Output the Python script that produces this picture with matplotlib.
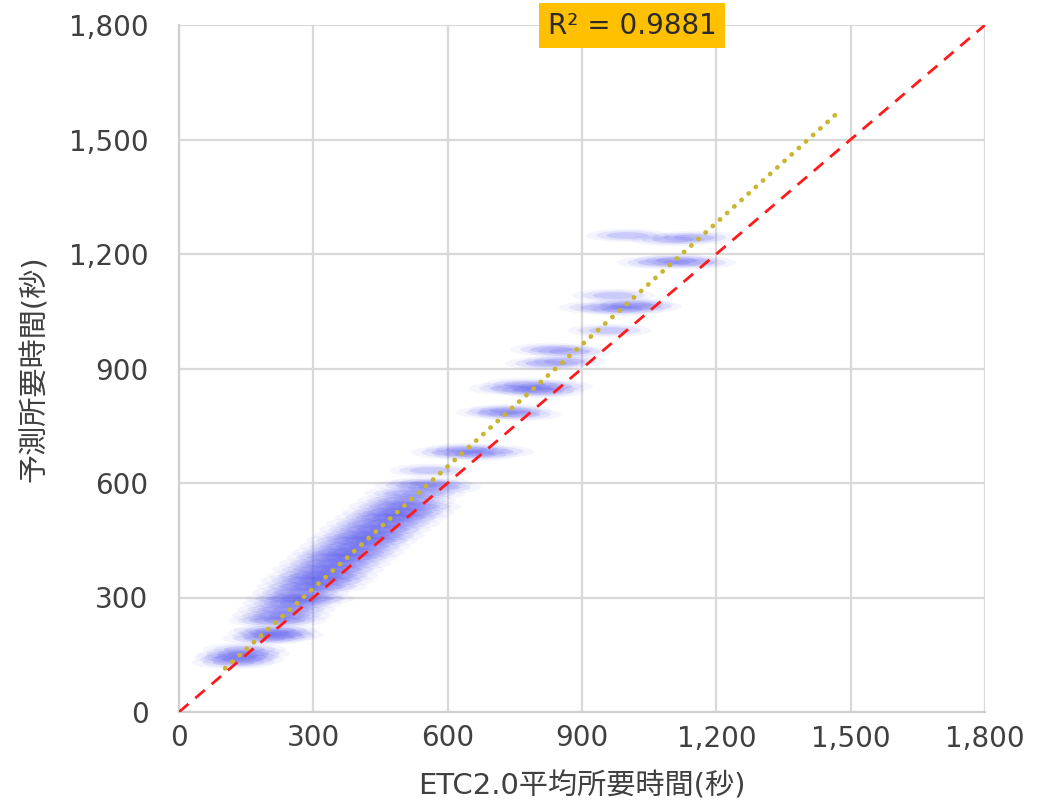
import numpy as np
import matplotlib
matplotlib.use('Agg')
import matplotlib.pyplot as plt
from matplotlib.path import Path
from matplotlib.ticker import FuncFormatter

plt.rcParams['font.family'] = ['DejaVu Sans', 'Noto Sans CJK JP']

# ---- data ----
etc_x = [120, 140, 130, 155, 145, 125,
         190, 210, 200, 230, 215,
         200, 235, 210, 245, 220, 255, 235, 270,
         240, 270, 300, 255, 285, 265, 295, 325,
         275, 310, 340, 290, 320, 350, 300, 335, 365,
         315, 348, 380, 330, 362, 395, 345, 378, 410,
         360, 395, 425, 375, 410, 440, 390, 425, 455,
         405, 440, 470, 420, 455, 490, 440, 475, 505,
         455, 490, 520, 470, 505, 535, 490, 525, 505, 545,
         530, 580, 560, 560,
         610, 660, 700, 640,
         710, 760, 740,
         740, 790, 830, 770, 810,
         820, 860, 830, 870, 960,
         940, 990, 1030, 1010, 970,
         1070, 1110, 1150,
         1000, 1100, 1150]
pred_y = [130, 140, 150, 155, 165, 145,
          195, 200, 210, 205, 215,
          240, 240, 255, 255, 270, 270, 285, 285,
          300, 300, 300, 315, 315, 330, 330, 330,
          345, 345, 345, 360, 360, 360, 375, 375, 375,
          390, 390, 390, 405, 405, 405, 420, 420, 420,
          435, 435, 435, 450, 450, 450, 465, 465, 465,
          480, 480, 480, 495, 495, 495, 510, 510, 510,
          525, 525, 525, 540, 540, 540, 555, 555, 575, 575,
          595, 590, 600, 635,
          680, 675, 685, 690,
          785, 780, 790,
          850, 845, 855, 860, 840,
          915, 920, 950, 945, 1000,
          1060, 1055, 1065, 1070, 1092,
          1180, 1185, 1180,
          1250, 1240, 1245]

# linear trend line (Excel) and identity line
trend_slope = 1.064
trend_intercept = 5.0
trend_x = [103, 1465]
identity_x = [0, 1800]
r2_text = 'R² = 0.9881'

ticks = [0, 300, 600, 900, 1200, 1500, 1800]
xlabel = 'ETC2.0平均所要時間(秒)'
ylabel = '予測所要時間(秒)'

# ---- figure ----
fig = plt.figure(figsize=(10.45, 8.07), dpi=100)
ax = fig.add_axes([179/1045, 95/807, 806/1045, 687/807])

theta = np.linspace(0, 2*np.pi, 64)
ellipse = Path(np.column_stack([np.cos(theta), 0.16*np.sin(theta)]))

for w, a in [(60, 0.06), (45, 0.11), (30, 0.17)]:
    ax.scatter(etc_x, pred_y, s=w**2, marker=ellipse, color='#5555f0',
               alpha=a, linewidths=0, zorder=2)

ax.plot(identity_x, identity_x, color='#ff1a1a', lw=2.0,
        dashes=(4.5, 3.2), zorder=4)
tx = np.array(trend_x, dtype=float)
ax.plot(tx, trend_slope*tx + trend_intercept, color='#c9b52e', lw=3.4,
        linestyle=(0, (0.05, 2.0)), dash_capstyle='round', zorder=5)

ax.set_xlim(0, 1800)
ax.set_ylim(0, 1800)
ax.set_xticks(ticks)
ax.set_yticks(ticks)
fmt = FuncFormatter(lambda v, p: f'{int(v):,}')
ax.xaxis.set_major_formatter(fmt)
ax.yaxis.set_major_formatter(fmt)
ax.grid(True, color='#d9d9d9', lw=1.6, zorder=0)
ax.set_axisbelow(True)
for s in ['top', 'right']:
    ax.spines[s].set_visible(False)
for s in ['left', 'bottom']:
    ax.spines[s].set_color('#d0d0d0')
    ax.spines[s].set_linewidth(1.6)
ax.tick_params(axis='both', length=0, labelsize=20, colors='#404040')
ax.tick_params(axis='x', pad=9)
ax.tick_params(axis='y', pad=22)

ax.set_xlabel(xlabel, fontsize=21, color='#404040', labelpad=14)
ax.set_ylabel(ylabel, fontsize=21, color='#404040', labelpad=14)

ax.text(0.562, 0.999, r2_text, transform=ax.transAxes, ha='center', va='center',
        fontsize=20, color='#2a2a2a', zorder=10,
        bbox=dict(boxstyle='square,pad=0.3', fc='#ffc000', ec='none'))

fig.savefig('out.png', dpi=100, facecolor='white')
